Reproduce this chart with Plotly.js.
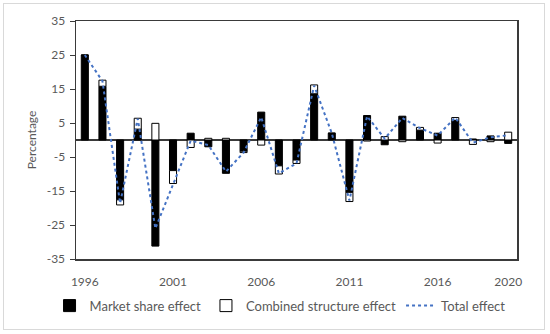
<!DOCTYPE html>
<html>
<head>
<meta charset="utf-8">
<script src="https://cdn.plot.ly/plotly-3.0.1.min.js"></script>
<style>
  html, body { margin: 0; padding: 0; background: #fff; }
  #wrap { position: relative; width: 550px; height: 334px; }
  #chart { width: 550px; height: 334px; }
  #frame { position: absolute; left: 3px; top: 3px; width: 540px; height: 325px;
           border: 1px solid #d9d9d9; pointer-events: none; }
</style>
</head>
<body>
<div id="wrap">
  <div id="chart"></div>
  <div id="frame"></div>
</div>
<script>
// ---- data ----
const years = [1996, 1997, 1998, 1999, 2000, 2001, 2002, 2003, 2004, 2005, 2006, 2007, 2008,
               2009, 2010, 2011, 2012, 2013, 2014, 2015, 2016, 2017, 2018, 2019, 2020];
const marketShare = [25.0, 15.8, -17.6, 3.2, -31.2, -9.0, 2.0, -2.0, -9.8, -3.3, 8.2, -7.6, -5.9,
                     13.6, 2.0, -15.4, 7.2, -1.4, 7.0, 2.9, 2.0, 5.7, 0.3, 1.2, -1.0];
const combinedStructure = [0.0, 1.8, -1.5, 3.2, 4.9, -3.8, -2.2, 0.5, 0.5, -0.4, -1.5, -2.4, -1.0,
                           2.6, 0.0, -2.7, -0.3, 1.0, -0.5, 0.8, -0.9, 0.9, -1.3, -0.5, 2.3];
const totalEffect = [25.0, 17.3, -18.6, 6.3, -26.0, -12.8, -0.2, -1.5, -9.3, -3.7, 6.7, -9.8, -6.9,
                     16.0, 2.0, -17.8, 7.0, 0.4, 6.5, 3.5, 1.3, 6.6, -0.8, 0.8, 1.4];
const xTickYears = [1996, 2001, 2006, 2011, 2016, 2020];
const yTicks = [-35, -25, -15, -5, 5, 15, 25, 35];
const seriesNames = ['Market share effect', 'Combined structure effect', 'Total effect'];

const FONT = 'Lato, "Open Sans", sans-serif';
const TXT = '#595959';
const AXIS = '#3a3a3a';

const traces = [
  {
    type: 'bar', name: seriesNames[0], x: years, y: marketShare,
    marker: { color: '#000000', line: { color: '#000000', width: 1 } }
  },
  {
    type: 'bar', name: seriesNames[1], x: years, y: combinedStructure,
    marker: { color: '#ffffff', line: { color: '#000000', width: 1 } }
  },
  {
    type: 'scatter', mode: 'lines', name: seriesNames[2], x: years, y: totalEffect,
    line: { color: '#4472C4', width: 2, dash: 'dot' }
  }
];

const layout = {
  width: 550, height: 334,
  margin: { l: 76, r: 33, t: 21, b: 75 },
  paper_bgcolor: '#ffffff', plot_bgcolor: '#ffffff',
  font: { family: FONT, size: 12, color: TXT },
  barmode: 'relative',
  bargap: 0.6,
  showlegend: true,
  legend: {
    orientation: 'h', x: -0.06, xanchor: 'left', y: -0.196, yanchor: 'middle',
    font: { family: FONT, size: 13, color: TXT },
    itemwidth: 30, traceorder: 'normal', tracegroupgap: 0
  },
  xaxis: {
    type: 'linear', range: [1995.5, 2020.5],
    tickvals: xTickYears, ticktext: xTickYears.map(String),
    showgrid: false, zeroline: false,
    showline: true, linecolor: AXIS, linewidth: 1.5, mirror: true,
    ticks: '', ticklabelstandoff: 11,
    tickfont: { family: FONT, size: 12, color: TXT }
  },
  yaxis: {
    range: [-35, 35], tickvals: yTicks, ticktext: yTicks.map(String),
    showgrid: false,
    zeroline: true, zerolinecolor: AXIS, zerolinewidth: 1.5,
    showline: true, linecolor: AXIS, linewidth: 1.5, mirror: true,
    ticks: 'outside', ticklen: 5, tickcolor: AXIS, tickwidth: 1, ticklabelstandoff: 2,
    tickfont: { family: FONT, size: 12, color: TXT },
    title: { text: 'Percentage', font: { family: FONT, size: 12, color: TXT }, standoff: 7 },
    automargin: false
  }
};

Plotly.newPlot('chart', traces, layout, { displayModeBar: false, staticPlot: true });
</script>
</body>
</html>
